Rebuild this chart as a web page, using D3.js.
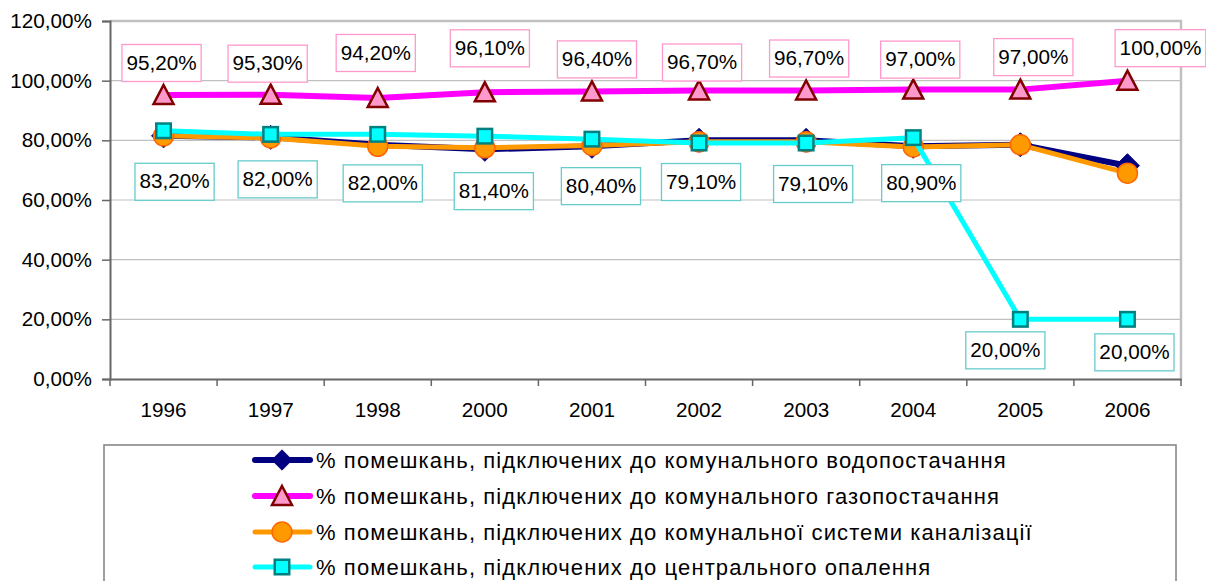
<!DOCTYPE html>
<html>
<head>
<meta charset="utf-8">
<script src="https://cdn.jsdelivr.net/npm/d3@7"></script>
<style>
  html, body { margin: 0; padding: 0; background: #fff; }
  svg { display: block; font-family: "Liberation Sans", Arial, sans-serif; }
</style>
</head>
<body>
<svg id="chart" width="1206" height="581"></svg>
<script>
// ---- data ----
const years = ["1996", "1997", "1998", "2000", "2001", "2002", "2003", "2004", "2005", "2006"];
const waterSupply = [81.5, 81.0, 78.5, 77.0, 78.0, 80.0, 80.0, 78.0, 78.5, 71.5];
const gasSupply   = [95.2, 95.3, 94.2, 96.1, 96.4, 96.7, 96.7, 97.0, 97.0, 100.0];
const sewerage    = [81.5, 80.8, 78.0, 77.5, 78.3, 79.5, 79.5, 77.8, 78.5, 69.0];
const heating     = [83.2, 82.0, 82.0, 81.4, 80.4, 79.1, 79.1, 80.9, 20.0, 20.0];
const yTicks = [0, 20, 40, 60, 80, 100, 120];
const seriesNames = [
  "% помешкань, підключених до комунального водопостачання",
  "% помешкань, підключених до комунального газопостачання",
  "% помешкань, підключених до комунальної системи каналізації",
  "% помешкань, підключених до центрального опалення"
];
// label nudges (pixel offsets of label box centre from its point)
const gasLabelShift  = [[-2,-32],[-3,-31],[-2,-45],[5,-44],[5,-32],[3,-28],[3,-32],[7,-30],[13,-32.5],[33,-32.5]];
const heatLabelShift = [[11,51],[7,45],[5,49],[9,55],[9,47],[2,39],[7,41],[8,45.5],[-15,31],[7,33]];

// ---- layout ----
const L = 110, R = 1181, T = 21, B = 379;
const FS = 20.7;
const svg = d3.select("#chart");

const x = d3.scaleBand().domain(years).range([L, R]).padding(0);
const y = d3.scaleLinear().domain([0, 120]).range([B, T]);
const cx = d => x(d) + x.bandwidth() / 2;
const fmt = v => v.toFixed(2).replace(".", ",") + "%";

// gridlines
svg.append("g").selectAll("line").data(yTicks.slice(1)).join("line")
  .attr("x1", L).attr("x2", R).attr("y1", d => y(d)).attr("y2", d => y(d))
  .attr("stroke", "#c0c0c0").attr("stroke-width", 1.2);

// plot border (top/right)
svg.append("path")
  .attr("d", `M${L},${y(120)}H${R}V${y(0)}`)
  .attr("fill", "none").attr("stroke", "#c0c0c0").attr("stroke-width", 2.5);

// y axis
const yAxis = svg.append("g").attr("transform", `translate(${L},0)`)
  .call(d3.axisLeft(y).tickValues(yTicks).tickFormat(fmt).tickSize(8).tickPadding(10));
yAxis.select(".domain").attr("stroke", "#666").attr("stroke-width", 2);
yAxis.selectAll(".tick line").attr("stroke", "#666").attr("stroke-width", 1.5);
yAxis.selectAll("text").attr("font-size", FS).attr("fill", "#000")
  .attr("font-family", "Liberation Sans, Arial, sans-serif");

// x axis
const xAxis = svg.append("g").attr("transform", `translate(0,${B})`)
  .call(d3.axisBottom(x).tickSize(0).tickPadding(23));
xAxis.select(".domain").attr("stroke", "#666").attr("stroke-width", 2);
xAxis.selectAll("text").attr("font-size", FS).attr("fill", "#000")
  .attr("font-family", "Liberation Sans, Arial, sans-serif");
// boundary ticks
const bounds = years.map(d => x(d)).concat([R]);
xAxis.append("g").selectAll("line").data(bounds).join("line")
  .attr("x1", d => d).attr("x2", d => d).attr("y1", 0).attr("y2", 7)
  .attr("stroke", "#666").attr("stroke-width", 1.5);

// markers
const markers = {
  diamond: g => g.append("path").attr("d", "M0,-12L12,0L0,12L-12,0Z")
    .attr("fill", "#000080").attr("stroke", "#000080").attr("stroke-width", 1),
  triangle: g => g.append("path").attr("d", "M0,-10L10,9L-10,9Z")
    .attr("fill", "#ff99cc").attr("stroke", "#800000").attr("stroke-width", 2.5)
    .attr("stroke-linejoin", "miter"),
  circle: g => g.append("circle").attr("r", 10)
    .attr("fill", "#ff9900").attr("stroke", "#ff6600").attr("stroke-width", 1.5),
  square: g => g.append("rect").attr("x", -7.25).attr("y", -7.25).attr("width", 14.5).attr("height", 14.5)
    .attr("fill", "#00ffff").attr("stroke", "#008080").attr("stroke-width", 2.5)
};

const series = [
  { name: seriesNames[0], values: waterSupply, color: "#000080", width: 6, marker: "diamond" },
  { name: seriesNames[1], values: gasSupply,   color: "#ff00ff", width: 6, marker: "triangle" },
  { name: seriesNames[2], values: sewerage,    color: "#ff9900", width: 5, marker: "circle" },
  { name: seriesNames[3], values: heating,     color: "#00ffff", width: 5, marker: "square" }
];

const line = d3.line().x((d, i) => cx(years[i])).y(d => y(d));

series.forEach(s => {
  const g = svg.append("g");
  g.append("path").attr("d", line(s.values)).attr("fill", "none")
    .attr("stroke", s.color).attr("stroke-width", s.width)
    .attr("stroke-linejoin", "round");
  s.values.forEach((v, i) => {
    const mg = g.append("g").attr("transform", `translate(${cx(years[i])},${y(v)})`);
    markers[s.marker](mg);
  });
});

// data labels
function addLabels(values, shifts, border) {
  const g = svg.append("g");
  values.forEach((v, i) => {
    const px = cx(years[i]) + shifts[i][0];
    const py = y(v) + shifts[i][1];
    const lg = g.append("g").attr("transform", `translate(${px},${py})`);
    const rect = lg.append("rect");
    const t = lg.append("text").text(fmt(v)).attr("text-anchor", "middle")
      .attr("dy", "0.32em").attr("font-size", FS).attr("fill", "#000");
    const w = t.node().getComputedTextLength() + 9;
    const h = 37;
    rect.attr("x", -w / 2).attr("y", -h / 2).attr("width", w).attr("height", h)
      .attr("fill", "#fff").attr("stroke", border).attr("stroke-width", 1.3);
  });
}
addLabels(gasSupply, gasLabelShift, "#ff99cc");
addLabels(heating, heatLabelShift, "#66cccc");

// legend
const lg = svg.append("g");
lg.append("rect").attr("x", 104).attr("y", 445).attr("width", 1072).attr("height", 200)
  .attr("fill", "#fff").attr("stroke", "#808080").attr("stroke-width", 1.5);
const rowY = [460, 496, 532, 567];
series.forEach((s, i) => {
  const ry = rowY[i];
  lg.append("line").attr("x1", 255).attr("x2", 310).attr("y1", ry).attr("y2", ry)
    .attr("stroke", s.color).attr("stroke-width", s.width).attr("stroke-linecap", "round");
  const mg = lg.append("g").attr("transform", `translate(282,${ry})`);
  markers[s.marker](mg);
  if (s.marker === "diamond") mg.select("path").attr("transform", "scale(0.85)");
  lg.append("text").attr("x", 316).attr("y", ry).attr("dy", "0.35em")
    .attr("font-size", 22).attr("letter-spacing", 1.1).attr("fill", "#000").text(s.name);
});
</script>
</body>
</html>
